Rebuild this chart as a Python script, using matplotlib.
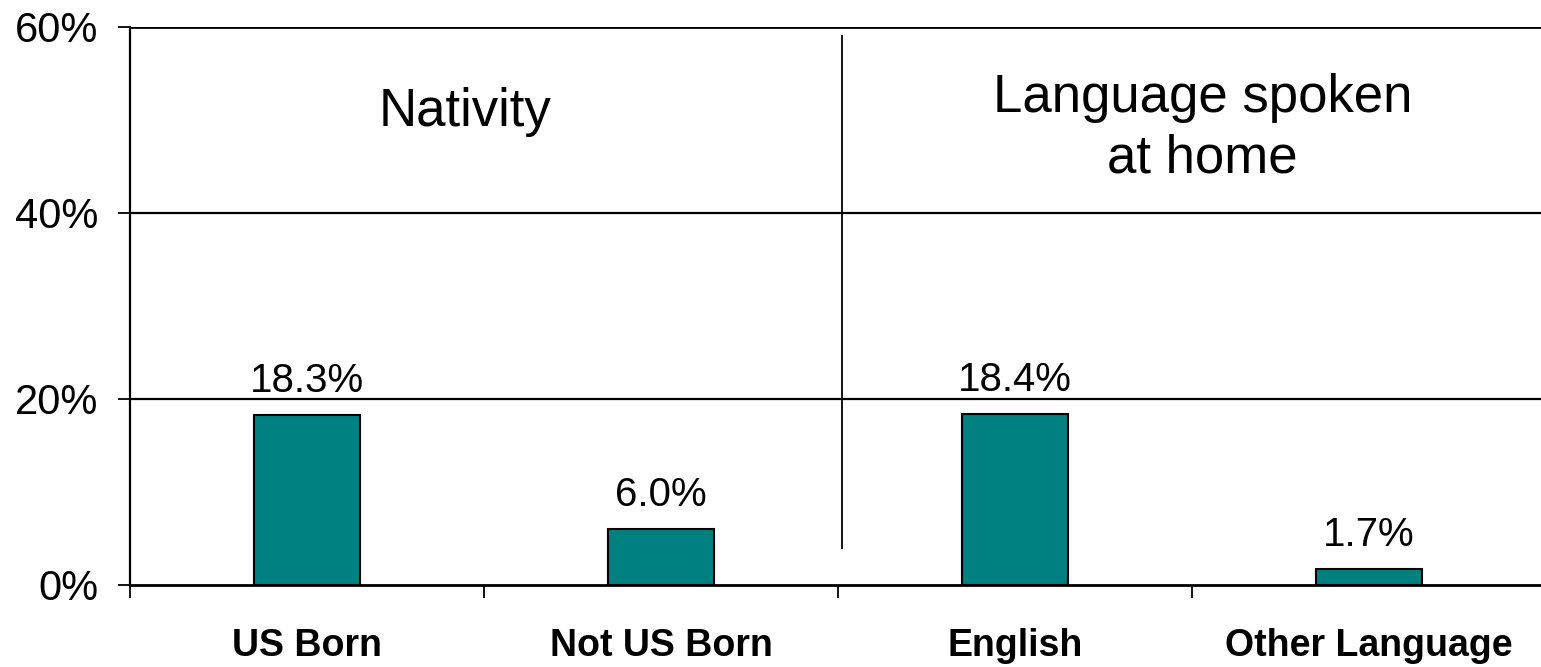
import matplotlib
matplotlib.use("Agg")
import matplotlib.pyplot as plt
import numpy as np

categories = ["US Born", "Not US Born", "English", "Other Language"]
values = [18.3, 6.0, 18.4, 1.7]
value_labels = ["18.3%", "6.0%", "18.4%", "1.7%"]
yticks = [0, 20, 40, 60]
ytick_labels = ["0%", "20%", "40%", "60%"]
group_titles = ["Nativity", "Language spoken\nat home"]

plt.rcParams['font.family'] = ['Liberation Sans', 'DejaVu Sans']

fig = plt.figure(figsize=(15.41, 6.67), dpi=100)
ax = fig.add_axes([130/1541, 1-585/667, (1546-130)/1541, (585-27)/667])

x = np.arange(len(categories))
ax.bar(x, values, width=0.3, color="#008080", edgecolor="black", linewidth=1.5, zorder=3)

ax.set_xlim(-0.5, len(categories) - 0.5)
ax.set_ylim(0, 60)

for yv in yticks[1:]:
    ax.axhline(yv, color="black", linewidth=1.6 if yv < 60 else 2.0, zorder=1)

for xi, v, lab in zip(x, values, value_labels):
    ax.annotate(lab, (xi, v), xytext=(0, 11), textcoords="offset points",
                ha="center", va="bottom", fontsize=29)

# separator
ax.plot([1.51, 1.51], [4.0, 59.0], color="black", linewidth=1.3, zorder=2)

ax.text(0.446, 50.9, group_titles[0], ha="center", va="center", fontsize=38)
ax.text(2.53, 49.1, group_titles[1], ha="center", va="center", fontsize=38,
        linespacing=1.25)

ax.set_yticks(yticks)
ax.set_yticklabels(ytick_labels, fontsize=30)
ax.tick_params(axis="y", length=9, width=1.3, pad=14)

ax.set_xticks(x)
ax.set_xticklabels(categories, fontsize=27, fontweight="bold")
ax.set_xticks(np.arange(-0.5, len(categories)), minor=True)
ax.tick_params(axis="x", which="major", length=0, pad=31)
ax.tick_params(axis="x", which="minor", length=9, width=1.3, direction="out")

for s in ["top", "right"]:
    ax.spines[s].set_visible(False)
ax.spines["left"].set_linewidth(1.6)
ax.spines["bottom"].set_linewidth(2.0)

fig.savefig("out.png", dpi=100)
